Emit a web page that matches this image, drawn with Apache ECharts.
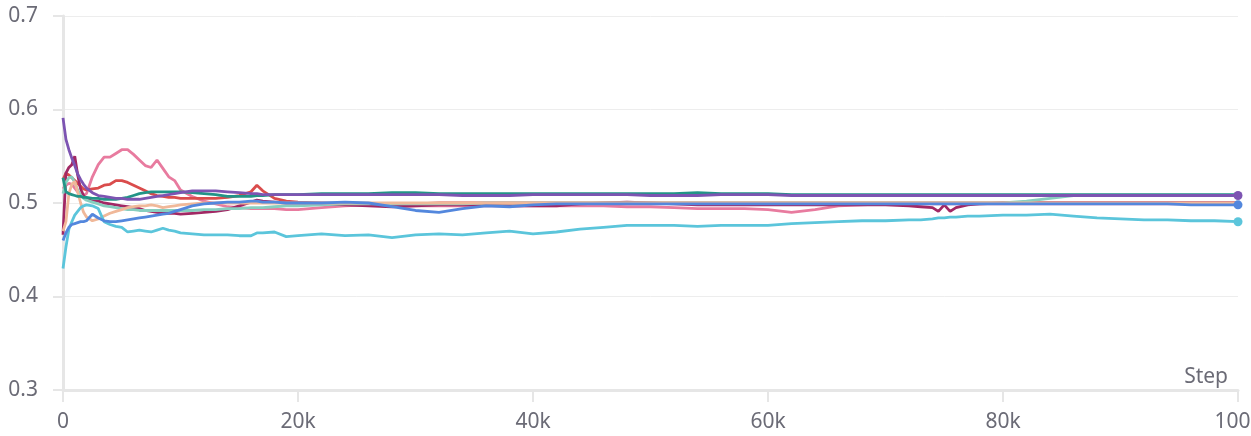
<!DOCTYPE html>
<html>
<head>
<meta charset="utf-8">
<script src="https://cdn.jsdelivr.net/npm/echarts@6/dist/echarts.min.js"></script>
<style>
html,body{margin:0;padding:0;background:#fff;}
#chart{width:1251px;height:436px;}
</style>
</head>
<body>
<div id="chart"></div>
<script>
const steps = [0,250,500,750,1000,1250,1500,1750,2000,2500,
  3000,3500,4000,4500,5000,5500,6000,6500,7000,7500,
  8000,8500,9000,9500,10000,11000,12000,13000,14000,15000,
  16000,16500,17000,18000,19000,20000,22000,24000,26000,28000,
  30000,32000,34000,36000,38000,40000,42000,44000,46000,48000,
  50000,52000,54000,56000,58000,60000,62000,64000,66000,68000,
  70000,72000,73000,74000,74500,75000,75500,76000,77000,78000,
  80000,82000,84000,86000,88000,90000,92000,94000,96000,98000,100000];

const pinkVals = [0.515,0.519,0.521,0.520,0.516,0.512,0.509,0.508,0.510,0.528,
  0.541,0.549,0.549,0.553,0.557,0.557,0.552,0.546,0.540,0.538,
  0.546,0.537,0.528,0.524,0.514,0.507,0.502,0.499,0.496,0.495,
  0.494,0.494,0.494,0.494,0.493,0.493,0.495,0.497,0.498,0.497,
  0.497,0.497,0.497,0.497,0.497,0.497,0.497,0.497,0.497,0.496,
  0.496,0.495,0.494,0.494,0.494,0.493,0.490,0.493,0.497,0.498,
  0.499,0.499,0.499,0.499,0.499,0.499,0.499,0.499,0.499,0.499,
  0.499,0.499,0.499,0.499,0.499,0.499,0.499,0.499,0.499,0.499,0.499];

const redVals = [0.525,0.532,0.530,0.527,0.524,0.521,0.518,0.515,0.514,0.515,
  0.516,0.519,0.520,0.524,0.524,0.522,0.519,0.516,0.513,0.510,
  0.508,0.507,0.506,0.506,0.505,0.505,0.505,0.505,0.506,0.508,
  0.512,0.519,0.513,0.505,0.502,0.501,0.500,0.499,0.499,0.499,
  0.499,0.500,0.500,0.500,0.500,0.500,0.500,0.500,0.500,0.500,
  0.500,0.500,0.500,0.500,0.500,0.500,0.500,0.500,0.500,0.500,
  0.500,0.500,0.500,0.500,0.500,0.500,0.500,0.500,0.500,0.500,
  0.500,0.500,0.500,0.500,0.500,0.500,0.500,0.500,0.500,0.500,0.500];

const magentaVals = [0.466,0.532,0.538,0.541,0.550,0.530,0.515,0.508,0.504,0.502,
  0.502,0.500,0.499,0.498,0.497,0.496,0.495,0.494,0.492,0.491,
  0.490,0.489,0.489,0.489,0.488,0.489,0.490,0.491,0.493,0.497,
  0.501,0.503,0.502,0.501,0.500,0.500,0.499,0.498,0.497,0.496,
  0.497,0.498,0.498,0.498,0.497,0.497,0.497,0.499,0.500,0.501,
  0.500,0.499,0.498,0.498,0.498,0.498,0.498,0.498,0.498,0.498,
  0.498,0.497,0.496,0.495,0.491,0.498,0.491,0.495,0.498,0.499,
  0.500,0.500,0.500,0.500,0.500,0.500,0.500,0.500,0.500,0.500,0.500];

const mintVals = [0.510,0.522,0.527,0.528,0.522,0.514,0.508,0.505,0.503,0.501,
  0.499,0.497,0.496,0.495,0.494,0.493,0.493,0.492,0.492,0.492,
  0.492,0.492,0.492,0.492,0.492,0.492,0.493,0.493,0.494,0.494,
  0.495,0.495,0.495,0.496,0.497,0.497,0.498,0.499,0.499,0.499,
  0.499,0.499,0.499,0.500,0.500,0.500,0.500,0.500,0.500,0.500,
  0.500,0.500,0.500,0.500,0.500,0.500,0.500,0.500,0.500,0.500,
  0.500,0.500,0.500,0.500,0.500,0.500,0.500,0.500,0.500,0.500,
  0.500,0.502,0.505,0.508,0.508,0.508,0.508,0.508,0.508,0.508,0.508];

const peachVals = [0.470,0.480,0.510,0.520,0.523,0.512,0.500,0.490,0.485,0.481,
  0.483,0.486,0.489,0.491,0.493,0.495,0.496,0.497,0.497,0.498,
  0.497,0.495,0.496,0.497,0.498,0.499,0.500,0.500,0.500,0.500,
  0.500,0.500,0.500,0.500,0.500,0.500,0.500,0.500,0.500,0.500,
  0.500,0.500,0.500,0.500,0.500,0.500,0.500,0.500,0.500,0.500,
  0.500,0.500,0.500,0.500,0.500,0.500,0.500,0.500,0.500,0.500,
  0.500,0.500,0.500,0.500,0.500,0.500,0.500,0.500,0.500,0.500,
  0.500,0.500,0.500,0.500,0.500,0.500,0.500,0.500,0.500,0.500,0.500];

const tealVals = [0.527,0.512,0.510,0.509,0.508,0.507,0.507,0.506,0.506,0.505,
  0.505,0.504,0.504,0.504,0.505,0.506,0.508,0.510,0.511,0.512,
  0.512,0.512,0.512,0.512,0.512,0.511,0.510,0.509,0.507,0.507,
  0.507,0.508,0.508,0.509,0.509,0.509,0.510,0.510,0.510,0.511,
  0.511,0.510,0.510,0.510,0.510,0.510,0.510,0.510,0.510,0.510,
  0.510,0.510,0.511,0.510,0.510,0.510,0.509,0.509,0.509,0.509,
  0.509,0.509,0.509,0.509,0.509,0.509,0.509,0.509,0.509,0.509,
  0.509,0.509,0.509,0.509,0.509,0.509,0.509,0.509,0.509,0.509,0.509];

const cyanVals = [0.430,0.453,0.472,0.480,0.487,0.491,0.495,0.497,0.498,0.497,
  0.494,0.480,0.477,0.475,0.474,0.469,0.470,0.471,0.470,0.469,
  0.471,0.473,0.471,0.470,0.468,0.467,0.466,0.466,0.466,0.465,
  0.465,0.468,0.468,0.469,0.464,0.465,0.467,0.465,0.466,0.463,
  0.466,0.467,0.466,0.468,0.470,0.467,0.469,0.472,0.474,0.476,
  0.476,0.476,0.475,0.476,0.476,0.476,0.478,0.479,0.480,0.481,
  0.481,0.482,0.482,0.483,0.484,0.484,0.485,0.485,0.486,0.486,
  0.487,0.487,0.488,0.486,0.484,0.483,0.482,0.482,0.481,0.481,0.480];

const blueVals = [0.460,0.468,0.474,0.477,0.478,0.479,0.480,0.480,0.481,0.488,
  0.484,0.481,0.480,0.480,0.481,0.482,0.483,0.484,0.485,0.486,
  0.487,0.488,0.489,0.491,0.493,0.497,0.499,0.500,0.501,0.501,
  0.502,0.502,0.501,0.501,0.500,0.500,0.500,0.501,0.500,0.496,
  0.492,0.490,0.494,0.497,0.496,0.498,0.499,0.499,0.499,0.499,
  0.499,0.499,0.499,0.499,0.499,0.499,0.499,0.499,0.499,0.499,
  0.499,0.499,0.499,0.499,0.499,0.499,0.499,0.499,0.499,0.499,
  0.499,0.499,0.499,0.499,0.499,0.499,0.499,0.499,0.498,0.498,0.498];

const purpleVals = [0.591,0.568,0.557,0.548,0.540,0.531,0.525,0.520,0.516,0.511,
  0.508,0.507,0.506,0.505,0.505,0.504,0.504,0.504,0.505,0.506,
  0.507,0.508,0.509,0.510,0.511,0.513,0.513,0.513,0.512,0.511,
  0.510,0.510,0.509,0.509,0.509,0.509,0.509,0.509,0.509,0.509,
  0.509,0.509,0.508,0.508,0.508,0.509,0.509,0.509,0.509,0.509,
  0.508,0.508,0.508,0.509,0.509,0.509,0.508,0.508,0.508,0.508,
  0.508,0.508,0.508,0.508,0.508,0.508,0.508,0.508,0.508,0.508,
  0.508,0.508,0.508,0.508,0.508,0.508,0.508,0.508,0.508,0.508,0.508];

const seriesList = [
  {name:'pink', color:'#E87B9F', vals:pinkVals, dot:false},
  {name:'red', color:'#DA4C4C', vals:redVals, dot:false},
  {name:'magenta', color:'#A12864', vals:magentaVals, dot:false},
  {name:'mint', color:'#87CEBF', vals:mintVals, dot:false},
  {name:'peach', color:'#F0B899', vals:peachVals, dot:false},
  {name:'teal', color:'#229487', vals:tealVals, dot:false},
  {name:'cyan', color:'#5BC5DB', vals:cyanVals, dot:true},
  {name:'blue', color:'#5387DD', vals:blueVals, dot:true},
  {name:'purple', color:'#7D54B2', vals:purpleVals, dot:true}
];

const xTicks = {min:0, max:100000, interval:20000};
const yTicks = {min:0.3, max:0.7, interval:0.1};

const labelColor = '#6b6b76';
const fontFam = '"Noto Sans", sans-serif';

const chart = echarts.init(document.getElementById('chart'), null, {renderer:'canvas'});
chart.setOption({
  animation:false,
  backgroundColor:'#ffffff',
  grid:{left:63, right:13, top:16, bottom:46, containLabel:false, outerBoundsMode:'none'},
  xAxis:{
    type:'value', min:xTicks.min, max:xTicks.max, interval:xTicks.interval,
    name:'Step', nameLocation:'end', nameGap:-10,
    nameTextStyle:{color:labelColor, fontSize:21, fontFamily:fontFam, align:'right', verticalAlign:'bottom', padding:[0,0,2,0]},
    axisLine:{show:true, lineStyle:{color:'#e6e6e6', width:3}},
    axisTick:{show:true, length:12, lineStyle:{color:'#e6e6e6', width:2}},
    splitLine:{show:false},
    axisLabel:{color:labelColor, fontSize:21, fontFamily:fontFam, margin:22, hideOverlap:false,
      formatter:function(v){return v===0?'0':(v/1000)+'k';}}
  },
  yAxis:{
    type:'value', min:yTicks.min, max:yTicks.max, interval:yTicks.interval,
    axisLine:{show:true, lineStyle:{color:'#e6e6e6', width:3}},
    axisTick:{show:true, length:10, lineStyle:{color:'#e6e6e6', width:2}},
    splitLine:{show:true, lineStyle:{color:'#ededed', width:1}},
    axisLabel:{color:labelColor, fontSize:21, fontFamily:fontFam, margin:25,
      formatter:function(v){return v.toFixed(1);}}
  },
  series: seriesList.map(function(s){
    const last = steps.length-1;
    return {
      name:s.name, type:'line',
      data: steps.map(function(x,i){return [x, s.vals[i]];}),
      showSymbol: s.dot, showAllSymbol:true, symbol:'circle',
      symbolSize: function(v, p){ return (s.dot && p.dataIndex===last) ? 9 : 0; },
      lineStyle:{color:s.color, width:2.8},
      itemStyle:{color:s.color},
      emphasis:{disabled:true},
      silent:true
    };
  })
});
</script>
</body>
</html>
